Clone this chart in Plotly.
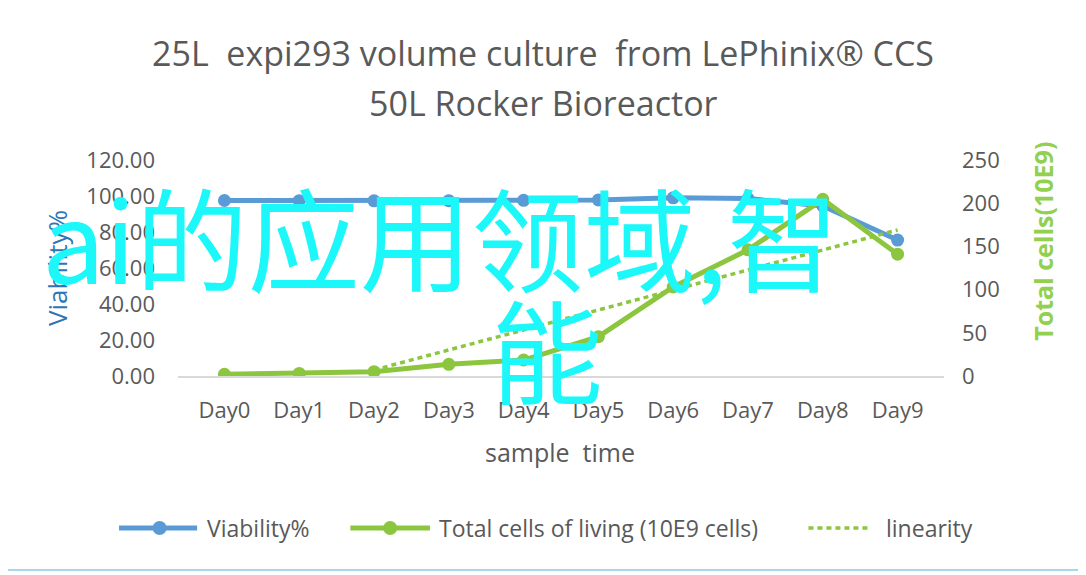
import plotly.graph_objects as go

# sample days
days = ["Day0", "Day1", "Day2", "Day3", "Day4", "Day5", "Day6", "Day7", "Day8", "Day9"]

# viability %, left axis
viability = [97.5, 97.4, 97.3, 97.4, 97.6, 97.8, 99.0, 98.6, 94.5, 75.5]

# total cells of living (10E9 cells), right axis
total_cells = [2, 3, 5, 13.5, 18.5, 45.5, 103, 146, 204.5, 141]

# linearity trend, drawn between its two end days
trend_days = ["Day2", "Day9"]
trend_vals = [7, 169]

BLUE = "#5B9BD5"
GREEN = "#8CC63F"
GREY = "#595959"
FONT = "Open Sans"
DOTS = "5px,4px"

fig = go.Figure()

fig.add_trace(go.Scatter(x=days, y=viability, name="Viability%", mode="lines+markers",
                         line=dict(color=BLUE, width=5), marker=dict(size=13, color=BLUE)))
fig.add_trace(go.Scatter(x=days, y=total_cells, name="Total cells of living (10E9 cells)",
                         mode="lines+markers", yaxis="y2",
                         line=dict(color=GREEN, width=5), marker=dict(size=13, color=GREEN)))
fig.add_trace(go.Scatter(x=trend_days, y=trend_vals, name="linearity", mode="lines", yaxis="y2",
                         line=dict(color=GREEN, width=3.5, dash=DOTS)))

fig.update_layout(
    width=1086, height=575,
    margin=dict(l=170, r=150, t=152, b=207, autoexpand=False),
    paper_bgcolor="white", plot_bgcolor="white",
    font=dict(family=FONT, color=GREY, size=22),
    xaxis=dict(categoryorder="array", categoryarray=days, showgrid=False, automargin=False,
               showline=True, linecolor="#D9D9D9", linewidth=2, ticks="", ticklabelstandoff=14,
               tickfont=dict(size=22)),
    yaxis=dict(range=[0, 120], dtick=20, tickformat=".2f", showgrid=False, zeroline=False,
               automargin=False, ticks="", ticklabelstandoff=22, tickfont=dict(size=22)),
    yaxis2=dict(range=[0, 250], dtick=50, overlaying="y", side="right", showgrid=False,
                zeroline=False, automargin=False, ticks="", ticklabelstandoff=17,
                tickfont=dict(size=22)),
    showlegend=False,
)

# title and axis titles as paper annotations
fig.add_annotation(text="25L  expi293 volume culture  from LePhinix® CCS", xref="paper", yref="paper",
                   x=0.477, y=1.495, xanchor="center", yanchor="middle", showarrow=False,
                   font=dict(size=34, color=GREY))
fig.add_annotation(text="50L Rocker Bioreactor", xref="paper", yref="paper",
                   x=0.477, y=1.264, xanchor="center", yanchor="middle", showarrow=False,
                   font=dict(size=34, color=GREY))
fig.add_annotation(text="sample  time", xref="paper", yref="paper",
                   x=0.499, y=-0.352, xanchor="center", yanchor="middle", showarrow=False,
                   font=dict(size=25, color=GREY))
fig.add_annotation(text="Viability%", xref="paper", yref="paper", textangle=-90,
                   x=-0.158, y=0.5, xanchor="center", yanchor="middle", showarrow=False,
                   font=dict(size=26, color="#2E75B6"))
fig.add_annotation(text="<b>Total cells(10E9)</b>", xref="paper", yref="paper", textangle=-90,
                   x=1.129, y=0.625, xanchor="center", yanchor="middle", showarrow=False,
                   font=dict(size=25, color="#92D050"))

# legend drawn by hand (longer samples than plotly's own legend):
# label, colour, dash, line start, line end, marker x (None = no marker), text x
legend_items = [
    ("Viability%", BLUE, "solid", -0.077, 0.025, -0.024, 0.0355),
    ("Total cells of living (10E9 cells)", GREEN, "solid", 0.225, 0.329, 0.277, 0.338),
    ("linearity", GREEN, DOTS, 0.823, 0.904, None, 0.922),
]
LEG_Y = -0.704
for label, color, dash, lx0, lx1, mx, tx in legend_items:
    fig.add_shape(type="line", xref="paper", yref="paper", x0=lx0, x1=lx1, y0=LEG_Y, y1=LEG_Y,
                  line=dict(color=color, width=5 if dash == "solid" else 3.5, dash=dash))
    if mx is not None:
        fig.add_shape(type="circle", xref="paper", yref="paper", xsizemode="pixel", ysizemode="pixel",
                      xanchor=mx, yanchor=LEG_Y, x0=-7, x1=7, y0=-7, y1=7,
                      fillcolor=color, line=dict(color=color, width=0))
    fig.add_annotation(text=label, xref="paper", yref="paper", x=tx, y=LEG_Y, xanchor="left",
                       yanchor="middle", showarrow=False, font=dict(size=23, color=GREY))

# watermark text over the chart
fig.add_annotation(text="ai的应用领域,智", xref="paper", yref="paper",
                   x=0.343, y=0.653, xanchor="center", yanchor="middle", showarrow=False,
                   font=dict(family="Noto Sans CJK SC", size=112, color="#1CF7FA"))
fig.add_annotation(text="能", xref="paper", yref="paper",
                   x=0.482, y=0.134, xanchor="center", yanchor="middle", showarrow=False,
                   font=dict(family="Noto Sans CJK SC", size=112, color="#1CF7FA"))

# thin frame around the picture
fig.add_shape(type="rect", xref="paper", yref="paper", x0=-0.2423, x1=1.1944, y0=-0.898, y1=1.722,
              line=dict(color="#8FC8E4", width=1.5))

fig.write_html("out.html")
